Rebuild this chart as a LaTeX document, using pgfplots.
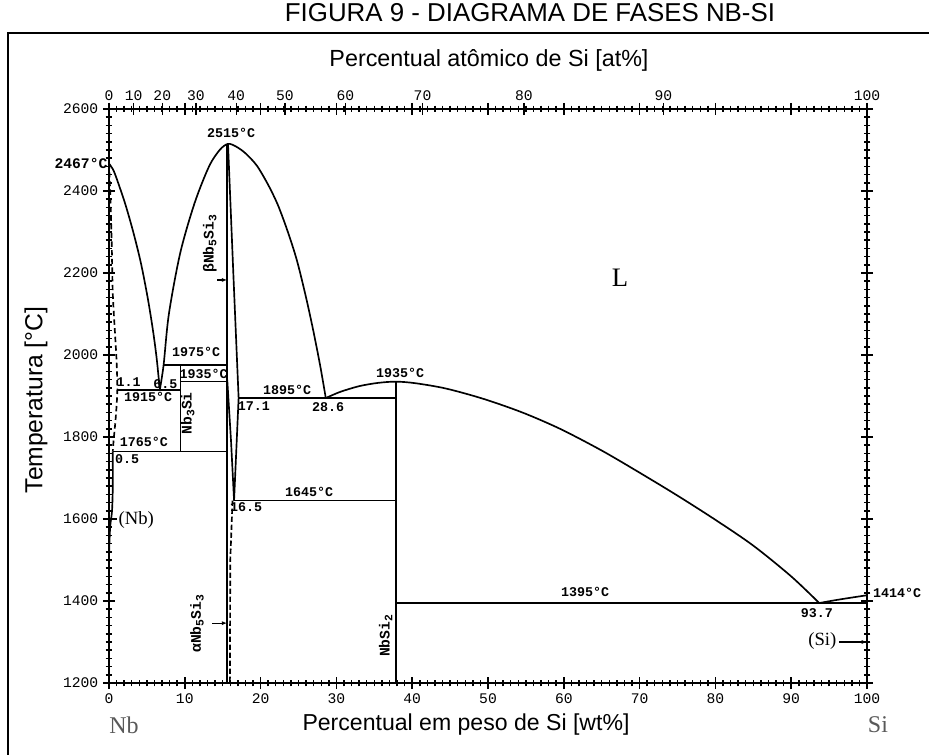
\documentclass[border=0pt]{standalone}
\usepackage{pgfplots}
\pgfplotsset{compat=1.18}
\usepackage{fontspec}
\setmainfont{Liberation Sans}
\newfontfamily\mono{Liberation Mono}
\newfontfamily\serif{Liberation Serif}
\usetikzlibrary{arrows.meta}

% phase-field labels in a typewriter face
\newcommand\lab{\mono\bfseries\fontsize{10}{12}\selectfont}
\newcommand\phase{\mono\bfseries\fontsize{11}{13}\selectfont}
\newcommand\sub[1]{\raisebox{-0.35ex}{\fontsize{8.5}{9}\selectfont #1}}

\begin{document}
\begin{tikzpicture}[x=0.75pt,y=0.75pt]
\useasboundingbox (0,0) rectangle (929,754);

% outer frame
\draw[line width=1.8pt] (8,-10) -- (8,721) -- (940,721);

% captions
\node[anchor=base, font=\fontsize{19.4}{22}\selectfont] at (530,732) {FIGURA 9 - DIAGRAMA DE FASES NB-SI};
\node[anchor=base, font=\fontsize{17.5}{20}\selectfont] at (489,687) {Percentual atômico de Si [at\%]};
\node[font=\fontsize{17.3}{20}\selectfont] at (466,29) {Percentual em peso de Si [wt\%]};
\node[rotate=90, font=\fontsize{18.5}{21}\selectfont] at (36,354) {Temperatura [°C]};
\node[text=black!65, font=\serif\fontsize{18}{20}\selectfont] at (124,29) {Nb};
\node[text=black!65, font=\serif\fontsize{18}{20}\selectfont] at (878,29) {Si};

% upper scale: atomic percent of Si placed at the matching weight percent
\begin{axis}[
  at={(81.75pt,53.25pt)}, anchor=south west,
  scale only axis, width=568.5pt, height=430.5pt,
  xmin=0, xmax=100, ymin=1200, ymax=2600,
  axis x line*=top, axis y line=none,
  xtick={0,3.25,7.03,11.47,16.77,23.21,31.20,41.36,54.74,73.13,100},
  xticklabels={0,10,20,30,40,50,60,70,80,90,100},
  tick align=center, major tick length=9pt,
  tick style={black, line width=0.9pt},
  axis line style={line width=1.1pt},
  xticklabel style={font=\mono\fontsize{11}{13}\selectfont, yshift=-2pt},
]
\end{axis}

% weight percent scale and the phase diagram
\begin{axis}[
  at={(81.75pt,53.25pt)}, anchor=south west,
  scale only axis, width=568.5pt, height=430.5pt,
  xmin=0, xmax=100, ymin=1200, ymax=2600,
  % short ticks every 1 wt% and every 20 degrees
  xtick={0,1,...,100}, ytick={1200,1220,...,2600},
  xticklabels={}, yticklabels={},
  major tick length=5pt,
  % labelled ticks
  extra x ticks={0,10,...,100}, extra y ticks={1200,1400,...,2600},
  extra tick style={major tick length=9pt},
  tick align=center, ticklabel pos=left,
  tick style={black, line width=1.1pt},
  axis line style={line width=1.1pt},
  /pgf/number format/assume math mode=true,
  /pgf/number format/1000 sep={},
  ticklabel style={font=\mono\fontsize{11}{13}\selectfont},
  clip=false,
  cycle list={{black,solid}},
  every axis plot/.append style={black, line width=1.25pt, no markers},
]
% Nb liquidus
\addplot[smooth] coordinates {(0,2467) (0.6,2450) (1.3,2415) (2.2,2365) (3.2,2300) (4.2,2225) (5.1,2140) (5.8,2060) (6.3,1990) (6.7,1915)};
% Nb5Si3 liquidus (congruent maximum at 2515)
\addplot[smooth] coordinates {(6.7,1915) (7.2,1975) (7.9,2100) (9.4,2249) (11.3,2371) (13.2,2460) (14.6,2500) (15.7,2515) (16.8,2508) (18,2492) (19.5,2462) (21,2415) (22.3,2365) (23.6,2300) (24.8,2230) (26,2140) (27,2055) (27.9,1970) (28.6,1895)};
% NbSi2 and Si liquidus
\addplot[smooth] coordinates {(28.6,1895) (30.5,1910) (33,1924) (35.5,1932) (37.9,1935) (40.5,1931) (44.5,1918) (49.4,1893) (54.5,1860) (59.5,1820) (65,1767) (70,1713) (75,1657) (80,1598) (85,1535) (90,1460) (93.7,1395)};
\addplot[smooth] coordinates {(93.7,1395) (95.5,1401) (97.5,1407) (100,1414)};
% (Nb) solidus and solvus
\addplot[smooth, dash pattern=on 4pt off 2.5pt] coordinates {(0,2467) (0.15,2400) (0.35,2280) (0.5,2150) (0.8,2050) (1.0,1985) (1.1,1915) (0.9,1850) (0.6,1790) (0.5,1765)};
\addplot[smooth] coordinates {(0.5,1765) (0.5,1680) (0.4,1620) (0.15,1580) (0.02,1520)};
% invariant lines
\addplot[sharp plot] coordinates {(7.2,1975) (15.6,1975)};
\addplot[sharp plot] coordinates {(9.45,1935) (15.6,1935)};
\addplot[sharp plot] coordinates {(1.1,1915) (9.45,1915)};
\addplot[sharp plot] coordinates {(0.5,1765) (15.6,1765)};
\addplot[sharp plot] coordinates {(17.1,1895) (37.9,1895)};
\addplot[sharp plot] coordinates {(16.5,1645) (37.9,1645)};
\addplot[sharp plot] coordinates {(37.9,1395) (100,1395)};
% compounds
\addplot[sharp plot] coordinates {(9.45,1975) (9.45,1765)};
\addplot[sharp plot] coordinates {(15.6,2515) (15.6,1200)};
\addplot[sharp plot] coordinates {(37.9,1935) (37.9,1200)};
\addplot[sharp plot] coordinates {(15.7,2515) (16.4,2200) (17.1,1895) (16.5,1645)};
\addplot[sharp plot] coordinates {(15.6,1940) (16.1,1790) (16.5,1645)};
\addplot[sharp plot, dash pattern=on 4pt off 2pt] coordinates {(16.3,1645) (16.0,1500) (15.95,1200)};

% temperatures and compositions
\node[font=\lab] at (axis cs:16.1,2541) {2515°C};
\node[anchor=east, font=\mono\bfseries\fontsize{11}{13}\selectfont, inner sep=1pt] at (axis cs:0,2467) {2467°C};
\node[font=\lab] at (axis cs:11.5,2007) {1975°C};
\node[font=\lab] at (axis cs:12.5,1954) {1935°C};
\node[font=\lab] at (axis cs:2.6,1935) {1.1};
\node[font=\lab] at (axis cs:7.45,1930) {6.5};
\node[font=\lab] at (axis cs:5.15,1897) {1915°C};
\node[font=\lab] at (axis cs:4.6,1788) {1765°C};
\node[font=\lab] at (axis cs:2.4,1746) {0.5};
\node[font=\lab] at (axis cs:19.1,1876) {17.1};
\node[font=\lab] at (axis cs:23.5,1915) {1895°C};
\node[font=\lab] at (axis cs:28.9,1873) {28.6};
\node[font=\lab] at (axis cs:26.4,1666) {1645°C};
\node[font=\lab] at (axis cs:18.1,1628) {16.5};
\node[font=\lab] at (axis cs:38.4,1957) {1935°C};
\node[font=\lab] at (axis cs:62.8,1422) {1395°C};
\node[font=\lab] at (axis cs:93.4,1371) {93.7};
\node[anchor=west, font=\lab, inner sep=1pt] at (axis cs:100.6,1420) {1414°C};

% phase names
\node[rotate=90, font=\phase] at (axis cs:13.3,2271) {βNb\sub{5}Si\sub{3}};
\draw[-{Latex[length=4pt,width=3pt]}, line width=0.8pt] (axis cs:14.3,2183) -- (axis cs:15.6,2183);
\node[rotate=90, font=\phase] at (axis cs:10.4,1858) {Nb\sub{3}Si};
\node[rotate=90, font=\phase] at (axis cs:11.6,1344) {αNb\sub{5}Si\sub{3}};
\draw[-{Latex[length=4pt,width=3pt]}, line width=0.8pt] (axis cs:13.6,1346) -- (axis cs:15.6,1346);
\node[rotate=90, font=\phase] at (axis cs:36.5,1315) {NbSi\sub{2}};
\draw[line width=0.8pt] (axis cs:0,1600) -- (axis cs:1.1,1600);
\node[font=\serif\fontsize{14}{16}\selectfont] at (axis cs:3.6,1598) {(Nb)};
\node[font=\serif\fontsize{14}{16}\selectfont] at (axis cs:94.1,1302) {(Si)};
\draw[-{Latex[length=4pt,width=3pt]}, line width=0.8pt] (axis cs:96.3,1300) -- (axis cs:100,1300);
\node[font=\serif\fontsize{20}{22}\selectfont] at (axis cs:67.4,2188) {L};
\end{axis}
\end{tikzpicture}
\end{document}
